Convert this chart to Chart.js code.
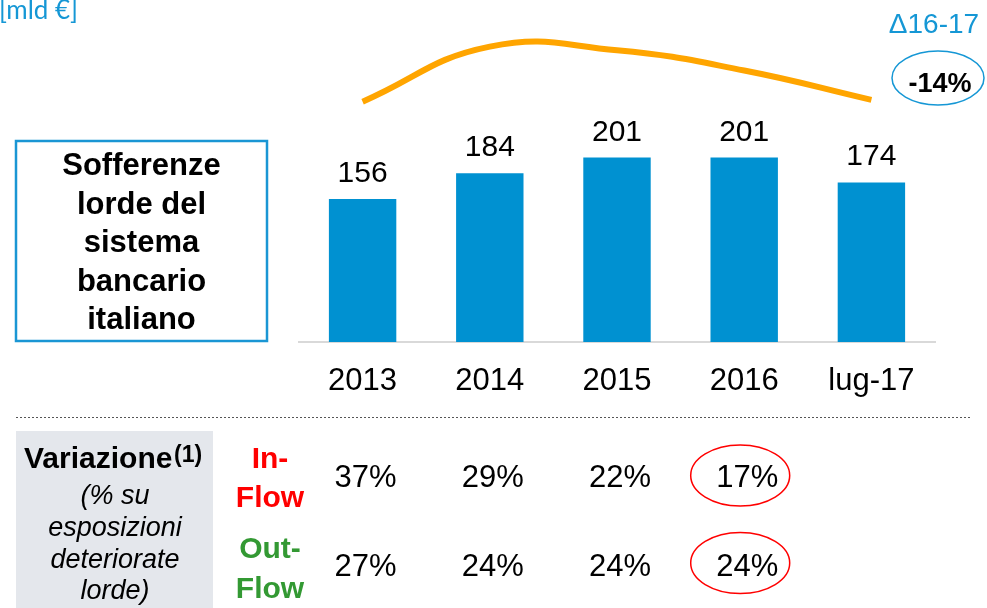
<!DOCTYPE html>
<html>
<head>
<meta charset="utf-8">
<script src="https://cdn.jsdelivr.net/npm/chart.js@4"></script>
<style>
  html, body { margin: 0; padding: 0; background: #fff; }
  #wrap { position: relative; width: 987px; height: 608px; overflow: hidden; }
  canvas { position: absolute; left: 0; top: 0; }
</style>
</head>
<body>
<div id="wrap"><canvas id="chart" width="987" height="608"></canvas></div>
<script>
// data
const categories = ["2013", "2014", "2015", "2016", "lug-17"];
const sofferenze = [156, 184, 201, 201, 174];      // mld €
const trendArc   = [262, 322, 318, 296, 264];      // orange arc, same scale as bars
const inFlow     = [37, 29, 22, 17];               // % per year
const outFlow    = [27, 24, 24, 24];
const boxLines   = ["Sofferenze", "lorde del", "sistema", "bancario", "italiano"];
const noteLines  = ["(% su", "esposizioni", "deteriorate", "lorde)"];
const deltaLabel = "Δ16-17";
const deltaValue = "-14%";
const unitLabel  = "[mld €]";

const BLUE = "#0091d1";
const TEXT_BLUE = "#1597d5";
const SANS = "'Liberation Sans', Arial, sans-serif";

// everything around the bars: labels, side boxes, flow table
const decorations = {
  id: "decorations",
  afterDatasetsDraw(chart) {
    const ctx = chart.ctx;
    const x = chart.scales.x;
    ctx.save();

    // value labels over bars (bars are dataset 1)
    ctx.fillStyle = "#000";
    ctx.font = "30px " + SANS;
    ctx.textAlign = "center";
    ctx.textBaseline = "alphabetic";
    chart.getDatasetMeta(1).data.forEach((bar, i) => {
      ctx.fillText(String(sofferenze[i]), bar.x, bar.y - 17);
    });

    // unit label
    ctx.fillStyle = TEXT_BLUE;
    ctx.font = "26px Lato, sans-serif";
    ctx.textAlign = "left";
    ctx.fillText(unitLabel, -1, 19);

    // delta 16-17
    ctx.font = "28px " + SANS;
    ctx.textAlign = "center";
    ctx.fillText(deltaLabel, 934, 33);
    ctx.strokeStyle = TEXT_BLUE;
    ctx.lineWidth = 1.5;
    ctx.beginPath();
    ctx.ellipse(938, 78, 46, 27, 0, 0, Math.PI * 2);
    ctx.stroke();
    ctx.fillStyle = "#000";
    ctx.font = "bold 27px " + SANS;
    ctx.fillText(deltaValue, 940, 92);

    // title box on the left
    ctx.strokeStyle = "#1a96d4";
    ctx.lineWidth = 2.5;
    ctx.strokeRect(16, 141, 251, 200);
    ctx.font = "bold 31px " + SANS;
    boxLines.forEach((t, i) => ctx.fillText(t, 141.5, 175 + i * 38.5));

    // dotted separator
    ctx.strokeStyle = "#555";
    ctx.lineWidth = 1;
    ctx.setLineDash([2, 2]);
    ctx.beginPath();
    ctx.moveTo(16, 417.5);
    ctx.lineTo(971, 417.5);
    ctx.stroke();
    ctx.setLineDash([]);

    // grey label box
    ctx.fillStyle = "#e4e7ec";
    ctx.fillRect(16, 431, 197, 177);
    ctx.fillStyle = "#000";
    ctx.textAlign = "left";
    ctx.font = "bold 30px " + SANS;
    ctx.fillText("Variazione", 24, 468);
    ctx.font = "bold 23px " + SANS;
    ctx.fillText("(1)", 174, 462);
    ctx.textAlign = "center";
    ctx.font = "italic 27px " + SANS;
    [504, 536, 568, 599].forEach((y, i) => ctx.fillText(noteLines[i], 115, y));

    // row headers
    ctx.font = "bold 30px " + SANS;
    ctx.fillStyle = "#ff0000";
    ctx.fillText("In-", 270, 468);
    ctx.fillText("Flow", 270, 507);
    ctx.fillStyle = "#339933";
    ctx.fillText("Out-", 270, 558);
    ctx.fillText("Flow", 270, 598);

    // flow values under each year
    ctx.fillStyle = "#000";
    ctx.font = "31px " + SANS;
    inFlow.forEach((v, i) => ctx.fillText(v + "%", x.getPixelForValue(i) + 3, 487));
    outFlow.forEach((v, i) => ctx.fillText(v + "%", x.getPixelForValue(i) + 3, 576));

    // red rings on the last full year
    const last = x.getPixelForValue(inFlow.length - 1) - 4;
    ctx.strokeStyle = "#ff0000";
    ctx.lineWidth = 1.5;
    [475.5, 563].forEach(cy => {
      ctx.beginPath();
      ctx.ellipse(last, cy, 49.5, 30.5, 0, 0, Math.PI * 2);
      ctx.stroke();
    });

    ctx.restore();
  }
};

new Chart(document.getElementById("chart"), {
  data: {
    labels: categories,
    datasets: [
      {
        type: "line",
        data: trendArc,
        borderColor: "#ffa500",
        borderWidth: 6,
        pointRadius: 0,
        tension: 0.45,
        fill: false,
        order: 0
      },
      {
        type: "bar",
        data: sofferenze,
        backgroundColor: BLUE,
        categoryPercentage: 1,
        barPercentage: 0.53,
        order: 1
      }
    ]
  },
  options: {
    responsive: false,
    animation: false,
    events: [],
    layout: { padding: { left: 299, right: 52, top: 20, bottom: 206 } },
    plugins: { legend: { display: false }, tooltip: { enabled: false } },
    scales: {
      y: { display: false, min: 0, max: 351 },
      x: {
        afterFit: s => { s.height = 60; },
        grid: { display: false, drawTicks: false },
        border: { display: true, color: "#d9d9d9", width: 2 },
        ticks: { color: "#000", padding: 21, font: { family: SANS, size: 31 } }
      }
    }
  },
  plugins: [decorations]
});
</script>
</body>
</html>
